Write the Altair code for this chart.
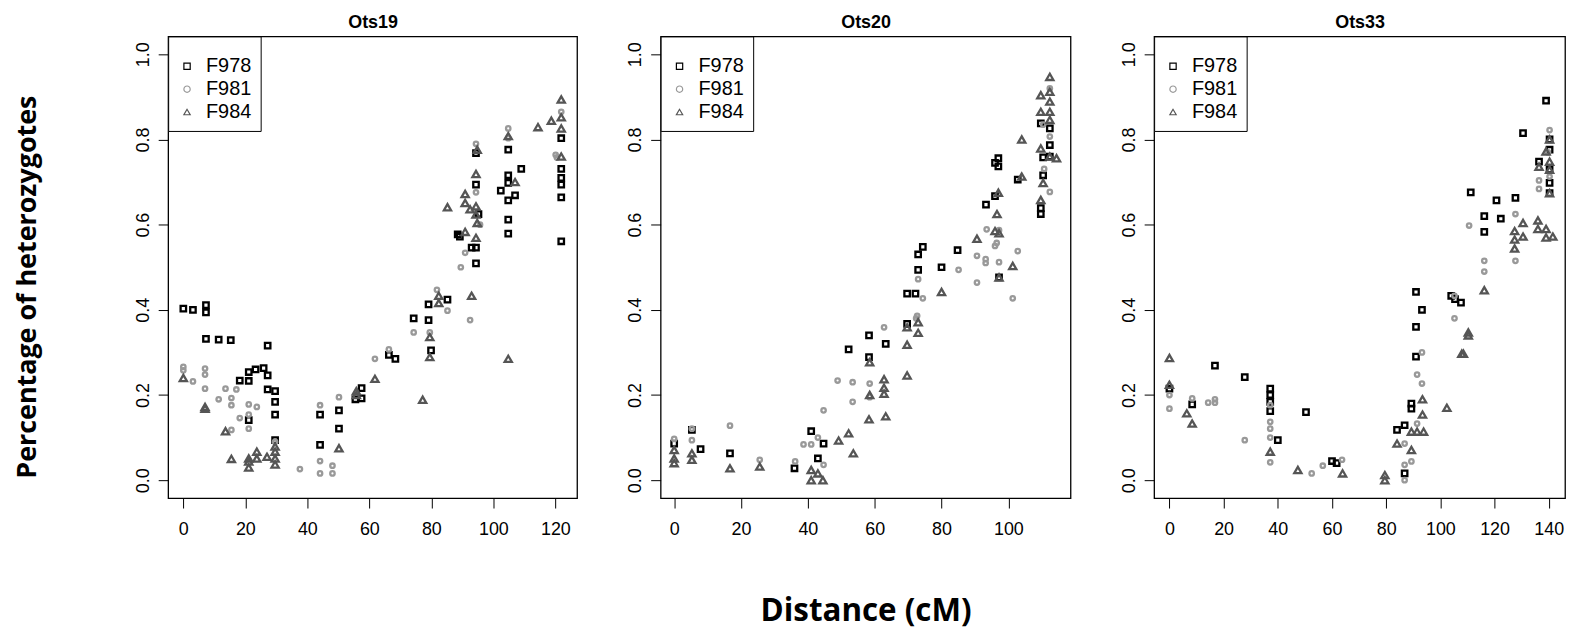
import altair as alt
import pandas as pd

series = ["F978", "F981", "F984"]
panel_names = ["Ots19", "Ots20", "Ots33"]
y_ticks = [0.0, 0.2, 0.4, 0.6, 0.8, 1.0]
ots19_ticks = [0, 20, 40, 60, 80, 100, 120]
ots20_ticks = [0, 20, 40, 60, 80, 100]
ots33_ticks = [0, 20, 40, 60, 80, 100, 120, 140]

# ---- Ots19 ----
ots19_f978_x = [0, 3.1, 7.3, 7.3, 7.3, 11.4, 15.3, 27.2, 18.2, 21.1, 21.1, 23.3, 25.9, 27.2, 27.2, 29.6, 29.6, 29.6,
                21.1, 29.6, 44.1, 44.1, 50.2, 50.2, 55.5, 57.5, 57.5, 66.3, 68.4, 74.3, 79.1, 79.1, 79.9, 85.2, 88.5,
                89.2, 93, 94.4, 94.4, 95.2, 94.4, 94.4, 104.8, 104.8, 104.8, 102.4, 104.8, 107, 109, 104.8, 104.8,
                121.9, 121.9, 121.9, 121.9, 121.9, 121.9]
ots19_f978_y = [0.403, 0.40, 0.411, 0.394, 0.332, 0.330, 0.329, 0.316, 0.234, 0.233, 0.254, 0.26, 0.263, 0.246, 0.213,
                0.209, 0.184, 0.154, 0.141, 0.094, 0.154, 0.083, 0.164, 0.121, 0.19, 0.216, 0.192, 0.294, 0.285, 0.38,
                0.376, 0.413, 0.305, 0.424, 0.577, 0.572, 0.546, 0.546, 0.509, 0.625, 0.694, 0.768, 0.776, 0.716,
                0.698, 0.68, 0.657, 0.669, 0.731, 0.612, 0.579, 0.803, 0.731, 0.71, 0.694, 0.664, 0.561]
ots19_f981_x = [0, 0, 3.1, 7, 7, 7, 11.4, 13.6, 15.5, 15.5, 17.1, 18.2, 21.1, 21.1, 21.1, 23.7, 15.5, 29.6, 37.6, 44.1,
                44.1, 44.1, 48.1, 48.1, 50.2, 61.8, 66.3, 74.3, 79.5, 81.8, 85.2, 92.5, 89.5, 90.9, 94.4, 94.4, 95.7,
                104.8, 104.8, 120.1, 120.5, 121.9]
ots19_f981_y = [0.266, 0.258, 0.232, 0.262, 0.248, 0.215, 0.19, 0.215, 0.193, 0.176, 0.213, 0.146, 0.178, 0.154, 0.121,
                0.172, 0.118, 0.09, 0.026, 0.176, 0.045, 0.016, 0.034, 0.016, 0.195, 0.285, 0.307, 0.347, 0.347, 0.447,
                0.398, 0.376, 0.50, 0.534, 0.676, 0.79, 0.60, 0.826, 0.803, 0.764, 0.758, 0.865]
ots19_f984_x = [0, 7, 7, 13.6, 15.5, 21.1, 21.1, 21.1, 23.7, 23.7, 27, 29.6, 29.6, 29.6, 29.6, 50.2, 55.8, 55.8, 61.8,
                77.2, 79.5, 79.5, 82.4, 82.4, 85.2, 90.9, 90.9, 90.9, 93, 94.4, 94.4, 94.4, 94.8, 94.4, 92.5, 94.8,
                104.8, 104.8, 107, 114.4, 118.7, 121.9, 121.9, 121.9, 121.9]
ots19_f984_y = [0.24, 0.172, 0.168, 0.115, 0.05, 0.051, 0.044, 0.03, 0.067, 0.051, 0.055, 0.079, 0.067, 0.051, 0.037,
                0.075, 0.209, 0.2, 0.238, 0.189, 0.336, 0.289, 0.433, 0.416, 0.641, 0.672, 0.651, 0.583, 0.433, 0.719,
                0.643, 0.624, 0.604, 0.569, 0.636, 0.776, 0.808, 0.285, 0.70, 0.829, 0.844, 0.894, 0.852, 0.826, 0.76]

# ---- Ots20 ----
ots20_f978_x = [0, 7.9, 5.3, 16.7, 36, 41, 43, 44.7, 52.2, 58.3, 58.3, 63.3, 69.7, 69.7, 72.2, 73, 73, 74.4, 80, 84.8,
                93.3, 96, 97, 97, 96, 97.2, 102.8, 109.7, 109.7, 110.4, 112.4, 112.4, 109.7, 112.4, 110.4]
ots20_f978_y = [0.086, 0.073, 0.118, 0.063, 0.028, 0.115, 0.051, 0.086, 0.307, 0.34, 0.289, 0.32, 0.367, 0.438, 0.438,
                0.494, 0.53, 0.548, 0.50, 0.54, 0.647, 0.667, 0.756, 0.737, 0.745, 0.476, 0.706, 0.639, 0.625, 0.716,
                0.787, 0.826, 0.838, 0.76, 0.758]
ots20_f981_x = [0, 5.3, 5.3, 16.7, 25.6, 36.2, 38.7, 41, 43, 44.7, 44.7, 48.9, 53.4, 53.4, 58.5, 58.5, 62.8, 73, 74.4,
                72.7, 72.4, 85.1, 90.6, 90.6, 93.5, 93.2, 93.2, 96, 96.5, 97.2, 97.2, 101.3, 102.8, 110.7, 112.4, 112.4,
                112.4, 110.4]
ots20_f981_y = [0.097, 0.121, 0.094, 0.128, 0.048, 0.044, 0.084, 0.084, 0.1, 0.036, 0.164, 0.234, 0.23, 0.184, 0.227,
                0.195, 0.359, 0.472, 0.427, 0.386, 0.38, 0.494, 0.527, 0.464, 0.589, 0.51, 0.519, 0.55, 0.557, 0.587,
                0.512, 0.427, 0.538, 0.731, 0.677, 0.807, 0.92, 0.835]
ots20_f984_x = [0, 0, 0, 5.3, 5.3, 16.7, 25.6, 41, 41, 43, 44.5, 49.2, 52.2, 53.6, 58.3, 58.5, 58.5, 62.8, 62.8, 62.8,
                63.3, 69.7, 69.7, 69.7, 73, 73, 80, 90.6, 96, 97.2, 96.6, 97, 97.2, 101.3, 104, 104, 109.7, 110.4,
                109.7, 109.7, 109.7, 112.4, 112.4, 112.4, 112.4, 112.4, 114.4, 112.4]
ots20_f984_y = [0.071, 0.051, 0.04, 0.063, 0.048, 0.028, 0.032, 0.024, 0.0, 0.016, 0.0, 0.093, 0.11, 0.063, 0.143, 0.20,
                0.277, 0.237, 0.217, 0.203, 0.15, 0.318, 0.359, 0.246, 0.371, 0.346, 0.442, 0.567, 0.585, 0.58, 0.625,
                0.675, 0.476, 0.503, 0.80, 0.713, 0.658, 0.698, 0.779, 0.904, 0.865, 0.947, 0.912, 0.889, 0.865,
                0.846, 0.756, 0.76]

# ---- Ots33 ----
ots33_f978_x = [0, 8.4, 16.8, 27.8, 37.2, 37.2, 37.2, 37.2, 40, 50.4, 60, 61.7, 86.8, 84, 86.8, 89.3, 89.3, 91, 91, 93.2,
                91, 104, 105.4, 107.6, 111.2, 116.2, 116.2, 120.7, 122.3, 127.7, 130.5, 136.4, 139, 140.3, 140.3, 140.3,
                140.3, 140.3]
ots33_f978_y = [0.215, 0.178, 0.269, 0.242, 0.215, 0.2, 0.184, 0.162, 0.094, 0.16, 0.045, 0.04, 0.016, 0.118, 0.129,
                0.18, 0.168, 0.29, 0.36, 0.40, 0.442, 0.433, 0.425, 0.417, 0.676, 0.62, 0.583, 0.657, 0.614, 0.663,
                0.815, 0.748, 0.891, 0.80, 0.776, 0.729, 0.698, 0.674]
ots33_f981_x = [0, 0, 8.4, 14.3, 16.8, 16.8, 27.8, 37.2, 37.2, 37.2, 37.2, 37.2, 52.5, 56.6, 63.7, 86.8, 86.8, 89.3, 86.8,
                91.4, 93.2, 91.4, 93.2, 105.2, 105.2, 110.6, 116.2, 116.2, 127.7, 127.7, 136.4, 136.4, 140.3, 140.3,
                139.7]
ots33_f981_y = [0.2, 0.168, 0.192, 0.182, 0.19, 0.182, 0.094, 0.176, 0.137, 0.121, 0.1, 0.042, 0.016, 0.034, 0.048, 0.0,
                0.036, 0.044, 0.086, 0.133, 0.30, 0.248, 0.227, 0.433, 0.38, 0.598, 0.515, 0.49, 0.625, 0.515, 0.704,
                0.684, 0.822, 0.713, 0.77]
ots33_f984_x = [0, 0, 6.4, 8.4, 37.2, 47.4, 63.9, 79.5, 79.5, 84, 89.3, 89.3, 91.4, 93.8, 93.4, 93.4, 102.4, 107.9, 108.5,
                110.3, 110.3, 116.2, 127.4, 127.4, 127.4, 130.5, 130.5, 136, 136, 139, 139, 141.5, 139, 140.3, 140.3,
                140.3, 136.4, 140.3]
ots33_f984_y = [0.287, 0.224, 0.157, 0.133, 0.067, 0.024, 0.016, 0.012, 0.0, 0.086, 0.071, 0.114, 0.114, 0.114, 0.154,
                0.19, 0.17, 0.297, 0.297, 0.347, 0.34, 0.446, 0.585, 0.565, 0.544, 0.604, 0.572, 0.61, 0.59, 0.59, 0.57,
                0.572, 0.772, 0.80, 0.748, 0.729, 0.736, 0.674]

panels = [
    ("Ots19", [(ots19_f978_x, ots19_f978_y), (ots19_f981_x, ots19_f981_y), (ots19_f984_x, ots19_f984_y)],
     [-4.9, 127.0], ots19_ticks, 411),
    ("Ots20", [(ots20_f978_x, ots20_f978_y), (ots20_f981_x, ots20_f981_y), (ots20_f984_x, ots20_f984_y)],
     [-4.05, 118.6], ots20_ticks, 412),
    ("Ots33", [(ots33_f978_x, ots33_f978_y), (ots33_f981_x, ots33_f981_y), (ots33_f984_x, ots33_f984_y)],
     [-5.65, 146.0], ots33_ticks, 413),
]

shapes = ["square", "circle", "triangle-up"]
colors = ["#000000", "#999999", "#555555"]
sizes = [30, 20, 52]


def make_panel(idx, name, data, domain, ticks, width):
    rows = []
    for s, (xs, ys) in zip(series, data):
        for x, y in zip(xs, ys):
            rows.append({"series": s, "x": x, "y": y})
    df = pd.DataFrame(rows)

    x_scale = alt.Scale(domain=domain, nice=False, zero=False)
    x_axis = alt.Axis(orient="bottom", values=ticks, format="d", labelPadding=13,
                      title="Distance (cM)" if idx == 1 else None,
                      titleFont="Open Sans", titleFontWeight="bold", titleFontSize=31.5,
                      titlePadding=57, titleColor="black")
    top_axis = alt.Axis(orient="top", title=name, ticks=False, labels=False, domain=False,
                        titleFont="Liberation Sans", titleFontSize=18, titleFontWeight="bold",
                        titleColor="black", titlePadding=9, titleBaseline="alphabetic")
    y_axis = alt.Axis(values=y_ticks, format=".1f", labelAngle=270, labelAlign="center",
                      labelBaseline="bottom", labelPadding=6,
                      title="Percentage of heterozygotes" if idx == 0 else None,
                      titleFont="Open Sans", titleFontWeight="bold", titleFontSize=27,
                      titlePadding=93, titleColor="black", titleY=251.5, titleAlign="center")

    leg = alt.Legend(title=" ", titleFontSize=8, titlePadding=3, orient="top-left")
    base = alt.Chart(df).encode(
        y=alt.Y("y:Q", scale=alt.Scale(domain=[-0.042, 1.042], nice=False, zero=False), axis=y_axis),
        shape=alt.Shape("series:N", scale=alt.Scale(domain=series, range=shapes), legend=leg),
        stroke=alt.Stroke("series:N", scale=alt.Scale(domain=series, range=colors), legend=leg),
    )
    layers = []
    for i, (s, sz) in enumerate(zip(series, sizes)):
        layers.append(
            base.transform_filter(alt.datum.series == s)
            .mark_point(filled=False, size=sz, strokeWidth=2.3, opacity=1)
            .encode(x=alt.X("x:Q", scale=x_scale, axis=x_axis if i == 0 else None))
        )
    title_layer = base.mark_point(opacity=0).encode(
        x=alt.X("x:Q", scale=x_scale, axis=top_axis)
    )
    return alt.layer(*layers, title_layer).resolve_axis(x="independent").properties(
        width=width, height=464,
    )


charts = [make_panel(i, *p) for i, p in enumerate(panels)]

chart = alt.hconcat(*charts, spacing=48).resolve_scale(
    shape="independent", stroke="independent"
).resolve_legend(
    shape="independent", stroke="independent"
).properties(
    padding={"left": 13, "top": 11, "right": 5, "bottom": 5}
).configure_view(
    stroke="black", strokeWidth=1.3
).configure_axis(
    domain=False, grid=False, ticks=True, tickColor="black", tickSize=10, tickWidth=1,
    labelFont="Liberation Sans", labelFontSize=18, labelColor="black"
).configure_legend(
    orient="top-left", offset=0, padding=9, strokeColor="black", fillColor="white",
    labelFont="Liberation Sans", labelFontSize=20, labelColor="black",
    symbolSize=40, symbolStrokeWidth=1.2, rowPadding=3, labelOffset=9
)

chart.save("out.html", embed_options={"renderer": "svg", "actions": False})
